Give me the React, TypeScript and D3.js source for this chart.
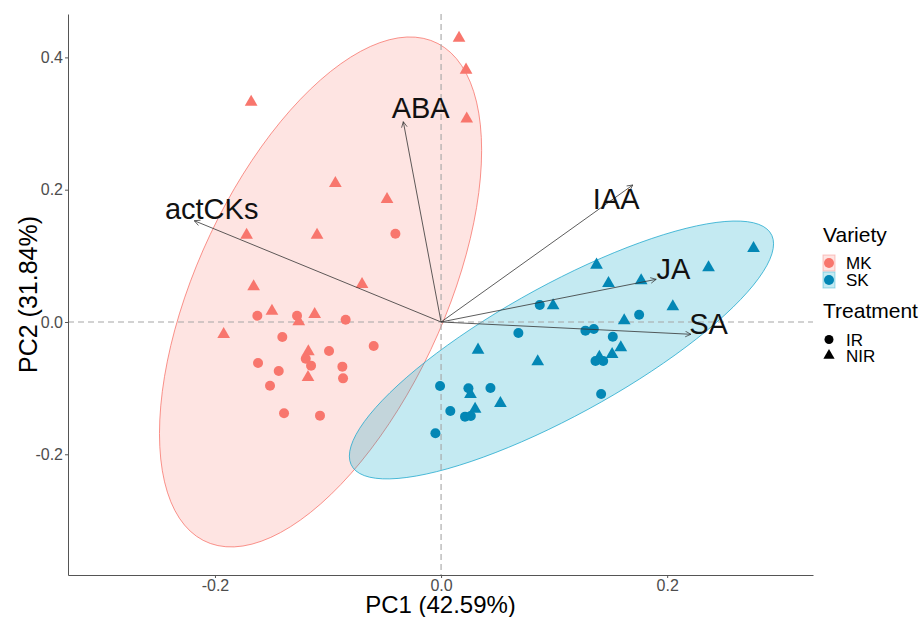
import React, {useEffect, useRef} from 'react';
import * as d3 from 'd3';

const width = 922;
const height = 617;
const margin = {top: 14, right: 109, bottom: 42, left: 68};

// scores (PC1, PC2)
const mkIR = [
    [-0.0404, 0.1335], [-0.1625, 0.0095], [-0.1274, 0.0095], [-0.0844, 0.0035],
    [-0.1404, -0.0227], [-0.0596, -0.0363], [-0.0991, -0.0438], [-0.1197, -0.0555],
    [-0.115, -0.066], [-0.1619, -0.062], [-0.0873, -0.0675], [-0.1436, -0.0741],
    [-0.0867, -0.0852], [-0.1513, -0.0963], [-0.1389, -0.138], [-0.1071, -0.1416]
];
const mkNIR = [
    [0.0159, 0.4293], [0.0221, 0.381], [0.0227, 0.307], [-0.168, 0.3326],
    [-0.0935, 0.2097], [-0.0478, 0.1855], [-0.172, 0.1315], [-0.1097, 0.1315],
    [-0.1658, 0.0534], [-0.0699, 0.057], [-0.1496, 0.0166], [-0.1259, 0.0005],
    [-0.1118, 0.0116], [-0.1923, -0.0186], [-0.1174, -0.0449], [-0.1177, -0.0836]
];
const skIR = [
    [0.0873, 0.0257], [0.1752, 0.011], [0.0684, -0.0166], [0.1277, -0.0131],
    [0.1351, -0.0106], [0.1519, -0.0222], [0.1366, -0.059], [0.1434, -0.059],
    [0.1416, -0.1088], [-0.0009, -0.0967], [0.0242, -0.1003], [0.0437, -0.0998],
    [0.0082, -0.1345], [0.0212, -0.1431], [0.0263, -0.1421], [-0.005, -0.1683]
];
const skNIR = [
    [0.2764, 0.1114], [0.1375, 0.0862], [0.2366, 0.0821], [0.1481, 0.0585],
    [0.177, 0.0625], [0.0991, 0.0247], [0.205, 0.0232], [0.162, 0.002],
    [0.0327, -0.0423], [0.159, -0.0388], [0.0855, -0.06], [0.1513, -0.0489],
    [0.026, -0.1093], [0.0525, -0.1229], [0.0301, -0.1315], [0.14, -0.053]
];

// variable loadings and where their labels sit
const varNames = ["ABA", "actCKs", "IAA", "JA", "SA"];
const varArrows = [[-0.0334, 0.3028], [-0.2183, 0.1531], [0.1696, 0.2071], [0.1903, 0.0645], [0.221, -0.0186]];
const varLabels = [[-0.018, 0.3235], [-0.2029, 0.1719], [0.1549, 0.187], [0.2056, 0.0812], [0.2366, -0.002]];

// ellipses: centre and covariance [xx, xy, yy]
const ellipseCentres = {MK: [-0.1066, 0.0454], SK: [0.1065, -0.0423]};
const ellipseCov = {MK: [0.0203, 0.0305, 0.1486], SK: [0.0352, 0.0301, 0.038]};

const xTicks = [-0.2, 0.0, 0.2];
const yTicks = [-0.2, 0.0, 0.2, 0.4];

const colors = {MK: "#F8766D", SK: "#0387B5"};
const fills = {MK: "rgba(248,118,109,0.2)", SK: "rgba(0,163,198,0.23)"};
const strokes = {MK: "#F8766D", SK: "#22A9CE"};

const font = "'Liberation Sans', Arial, sans-serif";

function ellipsePoints(centre, cov) {
    const [a, b, c] = cov;
    const l11 = Math.sqrt(a);
    const l21 = b / l11;
    const l22 = Math.sqrt(c - l21 * l21);
    return d3.range(0, 101).map(i => {
        const t = i / 100 * Math.PI * 2;
        const u = Math.cos(t), v = Math.sin(t);
        return [centre[0] + l11 * u, centre[1] + l21 * u + l22 * v];
    });
}

export default function App() {
    const ref = useRef(null);

    useEffect(() => {
        const svg = d3.select(ref.current);
        svg.selectAll("*").remove();

        const x = d3.scaleLinear().domain([-0.33, 0.329]).range([margin.left, width - margin.right]);
        const y = d3.scaleLinear().domain([-0.3825, 0.4656]).range([height - margin.bottom, margin.top]);

        svg.append("defs").append("marker")
            .attr("id", "arrowHead")
            .attr("viewBox", "0 0 10 10")
            .attr("refX", 9)
            .attr("refY", 5)
            .attr("markerWidth", 7)
            .attr("markerHeight", 7)
            .attr("markerUnits", "userSpaceOnUse")
            .attr("orient", "auto")
            .append("path")
            .attr("d", "M1,1 L9,5 L1,9")
            .attr("fill", "none")
            .attr("stroke", "#333")
            .attr("stroke-width", 1);

        const line = d3.line().x(d => x(d[0])).y(d => y(d[1])).curve(d3.curveLinearClosed);

        ["MK", "SK"].forEach(g => {
            svg.append("path")
                .attr("d", line(ellipsePoints(ellipseCentres[g], ellipseCov[g])))
                .attr("fill", fills[g])
                .attr("stroke", strokes[g])
                .attr("stroke-width", 0.8);
        });

        // reference lines
        svg.append("line")
            .attr("x1", x(0)).attr("x2", x(0))
            .attr("y1", margin.top).attr("y2", height - margin.bottom)
            .attr("stroke", "#a6a6a6").attr("stroke-width", 1.1).attr("stroke-dasharray", "6,4");
        svg.append("line")
            .attr("x1", margin.left).attr("x2", width - margin.right)
            .attr("y1", y(0)).attr("y2", y(0))
            .attr("stroke", "#a6a6a6").attr("stroke-width", 1.1).attr("stroke-dasharray", "6,4");

        const tri = d3.symbol().type(d3.symbolTriangle).size(70);
        const groups = [
            {data: mkNIR, g: "MK", shape: "tri"}, {data: skNIR, g: "SK", shape: "tri"},
            {data: mkIR, g: "MK", shape: "circle"}, {data: skIR, g: "SK", shape: "circle"}
        ];
        groups.forEach(grp => {
            if (grp.shape === "tri") {
                svg.append("g").selectAll("path")
                    .data(grp.data)
                    .enter()
                    .append("path")
                    .attr("d", tri())
                    .attr("transform", d => `translate(${x(d[0])},${y(d[1])})`)
                    .attr("fill", colors[grp.g]);
            } else {
                svg.append("g").selectAll("circle")
                    .data(grp.data)
                    .enter()
                    .append("circle")
                    .attr("cx", d => x(d[0]))
                    .attr("cy", d => y(d[1]))
                    .attr("r", 5)
                    .attr("fill", colors[grp.g]);
            }
        });

        // loadings
        svg.append("g").selectAll("line")
            .data(varArrows)
            .enter()
            .append("line")
            .attr("x1", x(0)).attr("y1", y(0))
            .attr("x2", d => x(d[0])).attr("y2", d => y(d[1]))
            .attr("stroke", "#333")
            .attr("stroke-width", 0.8)
            .attr("marker-end", "url(#arrowHead)");
        svg.append("g").selectAll("text")
            .data(varLabels)
            .enter()
            .append("text")
            .attr("x", d => x(d[0]))
            .attr("y", d => y(d[1]))
            .attr("dy", "0.36em")
            .attr("text-anchor", "middle")
            .attr("font-family", font)
            .attr("font-size", 29)
            .attr("fill", "#111")
            .text((d, i) => varNames[i]);

        // axes
        const xAxis = d3.axisBottom(x).tickValues(xTicks).tickSize(3).tickSizeOuter(0).tickPadding(2).tickFormat(d => d.toFixed(1));
        const yAxis = d3.axisLeft(y).tickValues(yTicks).tickSize(3).tickSizeOuter(0).tickPadding(2).tickFormat(d => d.toFixed(1));
        const gx = svg.append("g")
            .attr("transform", `translate(0, ${height - margin.bottom})`)
            .call(xAxis);
        const gy = svg.append("g")
            .attr("transform", `translate(${margin.left}, 0)`)
            .call(yAxis);
        [gx, gy].forEach(gr => {
            gr.select(".domain").attr("stroke", "#555").attr("stroke-width", 1);
            gr.selectAll(".tick line").attr("stroke", "#555");
            gr.selectAll(".tick text")
                .attr("fill", "#4d4d4d")
                .attr("font-size", 16)
                .attr("font-family", font);
        });

        svg.append("text")
            .attr("x", (margin.left + width - margin.right) / 2)
            .attr("y", 613)
            .attr("text-anchor", "middle")
            .attr("font-family", font)
            .attr("font-size", 24)
            .text("PC1 (42.59%)");
        svg.append("text")
            .attr("transform", `translate(37, ${(margin.top + height - margin.bottom) / 2}) rotate(-90)`)
            .attr("text-anchor", "middle")
            .attr("font-family", font)
            .attr("font-size", 25)
            .text("PC2 (31.84%)");

        // legend
        const lg = svg.append("g").attr("font-family", font);
        lg.append("text").attr("x", 823).attr("y", 242).attr("font-size", 21).text("Variety");
        ["MK", "SK"].forEach((g, i) => {
            const cy = 263 + i * 17;
            lg.append("rect")
                .attr("x", 823).attr("y", cy - 8).attr("width", 12).attr("height", 16)
                .attr("fill", fills[g]).attr("stroke", strokes[g]).attr("stroke-opacity", 0.4);
            lg.append("circle").attr("cx", 829).attr("cy", cy).attr("r", 5).attr("fill", colors[g]);
            lg.append("text").attr("x", 846).attr("y", cy).attr("dy", "0.36em").attr("font-size", 17).text(g);
        });
        lg.append("text").attr("x", 823).attr("y", 318).attr("font-size", 21).text("Treatment");
        lg.append("circle").attr("cx", 829).attr("cy", 339.5).attr("r", 4.5).attr("fill", "#000");
        lg.append("path").attr("d", d3.symbol().type(d3.symbolTriangle).size(55)()).attr("transform", "translate(829,355.5)").attr("fill", "#000");
        lg.append("text").attr("x", 846).attr("y", 339.5).attr("dy", "0.36em").attr("font-size", 17).text("IR");
        lg.append("text").attr("x", 846).attr("y", 356).attr("dy", "0.36em").attr("font-size", 17).text("NIR");
    }, []);

    return (
        <svg ref={ref} width={width} height={height}
             style={{position: 'absolute', left: 0, top: 0, background: '#fff'}}/>
    );
}
